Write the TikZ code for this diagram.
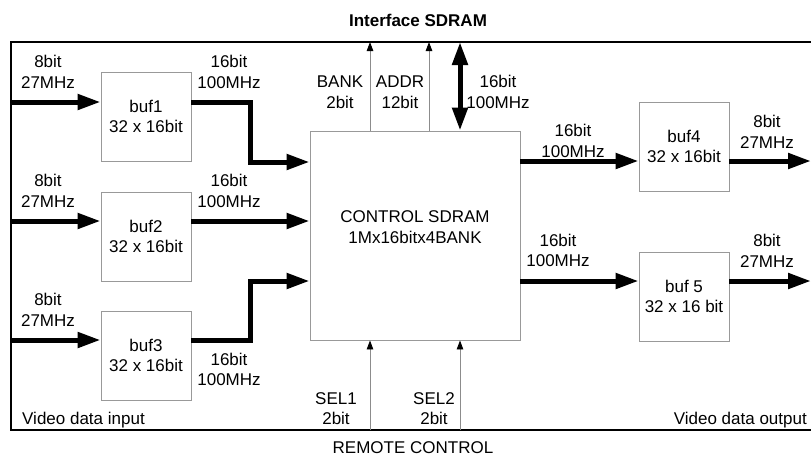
\documentclass[tikz,border=0pt]{standalone}
\usepackage{fontspec}
\setmainfont{Liberation Sans}
\usetikzlibrary{arrows.meta}
\begin{document}
\begin{tikzpicture}[x=1pt,y=-1pt,
  every node/.style={font=\fontsize{17}{20.5}\selectfont},
  lbl/.style={align=center,inner sep=0pt},
  bufbox/.style={draw=black!40,line width=0.9pt,minimum width=90pt,minimum height=89pt,align=center,inner sep=0pt},
  ctrlbox/.style={draw=black!40,line width=0.9pt,minimum width=210pt,minimum height=209pt,inner sep=0pt},
  bus/.style={line width=5pt,-{Triangle[length=23pt,width=15pt]}},
  busboth/.style={line width=5pt,{Triangle[length=23pt,width=15pt]}-{Triangle[length=23pt,width=15pt]}},
  sig/.style={draw=black!45,line width=0.9pt,-{Triangle[length=9pt,width=6.5pt,color=black]}},
  frame/.style={line width=1.4pt}]
\useasboundingbox (0,0) rectangle (811,456);
% frame
\draw[frame] (815,42) -- (11,42) -- (11,430) -- (815,430);
\node[lbl,font=\fontsize{17}{20}\selectfont\bfseries] (title) at (418,20) {Interface SDRAM};
\node[lbl] (remote) at (413,448) {REMOTE CONTROL};
\node[lbl,anchor=west] (vin) at (22,420) {Video data input};
\node[lbl,anchor=east] (vout) at (807,420) {Video data output};
% boxes
\node[bufbox] (buf1) at (146,116.5) {buf1\\32 x 16bit};
\node[bufbox] (buf2) at (146,236.5) {buf2\\32 x 16bit};
\node[bufbox] (buf3) at (146,355.5) {buf3\\32 x 16bit};
\node[bufbox] (buf4) at (684,146.5) {buf4\\32 x 16bit};
\node[bufbox] (buf5) at (684,296.5) {buf 5\\32 x 16 bit};
\node[ctrlbox] (ctrl) at (415,235.5) {};
\node[lbl] (ctrltxt) at (415,227) {CONTROL SDRAM\\1Mx16bitx4BANK};
% coordinates
\coordinate (in1) at (11,102);
\coordinate (in2) at (11,221);
\coordinate (in3) at (11,340);
\coordinate (j1) at (250,162);
\coordinate (j3) at (250,281);
\coordinate (r4) at (600,161);
\coordinate (r5) at (600,281);
\coordinate (out4) at (811,161);
\coordinate (out5) at (811,281);
\coordinate (bankT) at (370,42);
\coordinate (addrT) at (429,42);
\coordinate (dataT) at (460,42);
\coordinate (sel1B) at (370,430);
\coordinate (sel2B) at (460,430);
% input buses
\draw[bus] (in1) -- (buf1.west |- in1);
\draw[bus] (in2) -- (buf2.west |- in2);
\draw[bus] (in3) -- (buf3.west |- in3);
% buffer to control
\draw[bus,line join=miter] (buf1.east |- in1) -| (j1) -- (ctrl.west |- j1);
\draw[bus] (buf2.east |- in2) -- (ctrl.west |- in2);
\draw[bus,line join=miter] (buf3.east |- in3) -| (j3) -- (ctrl.west |- j3);
% control to outputs
\draw[bus] (ctrl.east |- r4) -- (buf4.west |- r4);
\draw[bus] (ctrl.east |- r5) -- (buf5.west |- r5);
\draw[bus] (buf4.east |- r4) -- (out4);
\draw[bus] (buf5.east |- r5) -- (out5);
% SDRAM interface
\draw[sig] (ctrl.north -| bankT) -- (bankT);
\draw[sig] (ctrl.north -| addrT) -- (addrT);
\draw[busboth] (ctrl.north -| dataT) -- (dataT);
% remote control
\draw[sig] (sel1B) -- (ctrl.south -| sel1B);
\draw[sig] (sel2B) -- (ctrl.south -| sel2B);
% labels
\node[lbl] (l1) at (48,72) {8bit\\27MHz};
\node[lbl] (l2) at (48,191) {8bit\\27MHz};
\node[lbl] (l3) at (48,310) {8bit\\27MHz};
\node[lbl] (m1) at (229,72) {16bit\\100MHz};
\node[lbl] (m2) at (229,191) {16bit\\100MHz};
\node[lbl] (m3) at (229,369.5) {16bit\\100MHz};
\node[lbl] (bank) at (340,92) {BANK\\2bit};
\node[lbl] (addr) at (400,92) {ADDR\\12bit};
\node[lbl] (data) at (498,92) {16bit\\100MHz};
\node[lbl] (r4l) at (573,141) {16bit\\100MHz};
\node[lbl] (r5l) at (558,250.5) {16bit\\100MHz};
\node[lbl] (o4l) at (767,132) {8bit\\27MHz};
\node[lbl] (o5l) at (767,251) {8bit\\27MHz};
\node[lbl] (sel1) at (336,408.5) {SEL1\\2bit};
\node[lbl] (sel2) at (434,408.5) {SEL2\\2bit};
\end{tikzpicture}
\end{document}
